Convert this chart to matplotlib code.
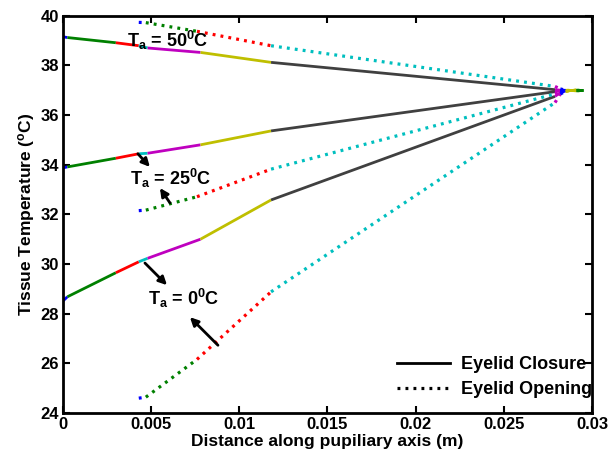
import matplotlib
matplotlib.use('Agg')
import matplotlib.pyplot as plt
from matplotlib.lines import Line2D

plt.rcParams['font.family'] = ['Liberation Sans', 'DejaVu Sans']
plt.rcParams['font.weight'] = 'bold'
plt.rcParams['axes.labelweight'] = 'bold'
plt.rcParams['mathtext.fontset'] = 'custom'
plt.rcParams['mathtext.rm'] = 'Liberation Sans:bold'
plt.rcParams['mathtext.it'] = 'Liberation Sans:bold'
plt.rcParams['mathtext.bf'] = 'Liberation Sans:bold'

# layer boundaries along the pupillary axis (m)
x_closure = [0, 0.00025, 0.003, 0.0043, 0.0048, 0.0078, 0.0118, 0.0279, 0.0282, 0.0285, 0.0291, 0.0295]
x_opening = [0.0043, 0.0047, 0.0076, 0.0118, 0.0279, 0.0282, 0.0285, 0.0291, 0.0295]

# temperatures at the boundaries
closure_50 = [39.15, 39.12, 38.91, 38.79, 38.70, 38.52, 38.12, 37.02, 37.0, 37.0, 37.0, 37.0]
closure_25 = [33.87, 33.91, 34.26, 34.44, 34.46, 34.80, 35.36, 36.94, 36.98, 37.0, 37.0, 37.0]
closure_0 = [28.51, 28.68, 29.65, 30.09, 30.23, 31.00, 32.58, 36.75, 36.9, 36.97, 37.0, 37.0]

opening_50 = [39.73, 39.72, 39.37, 38.79, 37.15, 37.05, 37.0, 37.0, 37.0]
opening_25 = [32.15, 32.17, 32.71, 33.82, 36.85, 36.95, 37.0, 37.0, 37.0]
opening_0 = [24.60, 24.64, 26.16, 28.88, 36.5, 36.85, 36.95, 37.0, 37.0]

ambient_labels = ['T$_a$ = 50$^0$C', 'T$_a$ = 25$^0$C', 'T$_a$ = 0$^0$C']
xtick_labels = ['0', '0.005', '0.01', '0.015', '0.02', '0.025', '0.03']

# matlab colours
B = (0, 0, 1)
G = (0, 0.5, 0)
R = (1, 0, 0)
C = (0, 0.75, 0.75)
M = (0.75, 0, 0.75)
Y = (0.75, 0.75, 0)
K = (0.25, 0.25, 0.25)
closure_colors = [B, G, R, C, M, Y, K, M, B, Y, G]
opening_colors = [B, G, R, C, M, B, Y, G]

fig = plt.figure(figsize=(6.11, 4.61), dpi=100)
ax = fig.add_axes([0.103, 0.104, 0.866, 0.862])

def draw(xs, ys, colors, ls, lw):
    for i in range(len(xs) - 1):
        ax.plot(xs[i:i + 2], ys[i:i + 2], color=colors[i], linestyle=ls,
                lw=lw, solid_capstyle='butt', dash_capstyle='butt')

dot = (0, (0.9, 1.6))
for ys in [closure_50, closure_25, closure_0]:
    draw(x_closure, ys, closure_colors, '-', 2.0)
for ys in [opening_50, opening_25, opening_0]:
    draw(x_opening, ys, opening_colors, dot, 2.3)

# labels and arrows
ax.text(0.00365, 39.0, ambient_labels[0], fontsize=13, va='center')
ax.text(0.0038, 33.45, ambient_labels[1], fontsize=13, va='center')
ax.text(0.0048, 28.6, ambient_labels[2], fontsize=13, va='center')

arr = dict(arrowstyle='-|>', color='k', lw=2, mutation_scale=12, shrinkA=0, shrinkB=0)
ax.annotate('', xy=(0.00493, 33.91), xytext=(0.00425, 34.44), arrowprops=arr)
ax.annotate('', xy=(0.0055, 33.06), xytext=(0.00607, 32.46), arrowprops=arr)
ax.annotate('', xy=(0.0059, 29.15), xytext=(0.00465, 30.04), arrowprops=arr)
ax.annotate('', xy=(0.0072, 27.86), xytext=(0.00879, 26.73), arrowprops=arr)

ax.set_xlim(0, 0.03)
ax.set_ylim(24, 40)
ax.set_xticks([0, 0.005, 0.01, 0.015, 0.02, 0.025, 0.03])
ax.set_xticklabels(xtick_labels, fontweight='bold')
ax.set_yticks(range(24, 41, 2))
ax.set_yticklabels([str(v) for v in range(24, 41, 2)], fontweight='bold')
ax.tick_params(direction='in', top=True, right=True, length=5, width=1.5, labelsize=12, pad=3)
for s in ax.spines.values():
    s.set_linewidth(2)

ax.set_xlabel('Distance along pupiliary axis (m)', fontsize=12.5, fontweight='bold', labelpad=1)
ax.set_ylabel('Tissue Temperature ($^{\\mathrm{o}}$C)', fontsize=12.5, fontweight='bold', labelpad=2)

handles = [Line2D([], [], color='k', lw=2), Line2D([], [], color='k', lw=2.3, linestyle=dot)]
ax.legend(handles, ['Eyelid Closure', 'Eyelid Opening'], loc='lower right', frameon=False,
          bbox_to_anchor=(1.02, 0.01), prop={'size': 13, 'weight': 'bold'},
          handlelength=2.9, handletextpad=0.6, borderaxespad=0.2, labelspacing=0.45)

fig.savefig('out.png', dpi=100)
